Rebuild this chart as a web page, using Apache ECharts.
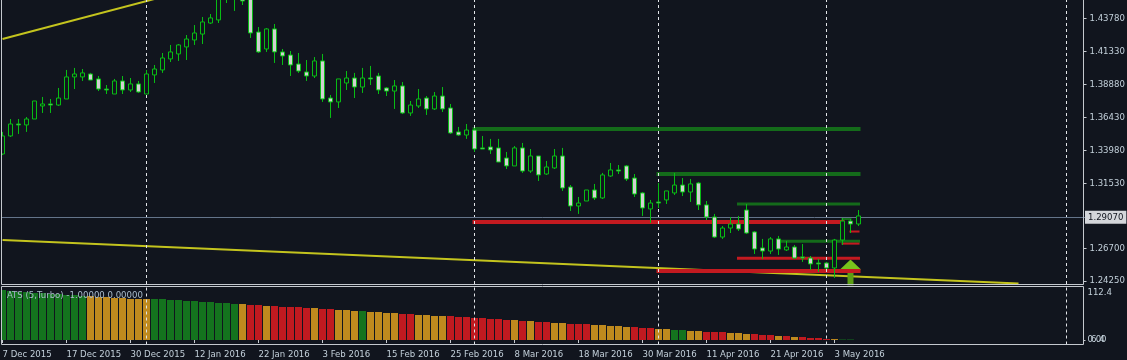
<!DOCTYPE html>
<html>
<head>
<meta charset="utf-8">
<style>
  html, body { margin: 0; padding: 0; background: #11151e; }
  #chart { width: 1127px; height: 360px; }
</style>
<script src="https://cdn.jsdelivr.net/npm/echarts@6/dist/echarts.min.js"></script>
</head>
<body>
<div id="chart"></div>
<script>
// [open, close, low, high], one row per trading day
const candles = [
  [1.3370,1.3504,1.3362,1.3534],[1.3504,1.3593,1.3496,1.3630],[1.3593,1.3586,1.3519,1.3630],[1.3586,1.3630,1.3534,1.3645],
  [1.3630,1.3764,1.3630,1.3764],[1.3727,1.3742,1.3675,1.3794],[1.3742,1.3734,1.3675,1.3779],[1.3734,1.3786,1.3727,1.3861],
  [1.3779,1.3943,1.3779,1.3995],[1.3943,1.3965,1.3853,1.4010],[1.3943,1.3973,1.3913,1.4002],[1.3965,1.3920,1.3920,1.3973],
  [1.3928,1.3853,1.3838,1.3950],[1.3853,1.3846,1.3816,1.3883],[1.3816,1.3913,1.3816,1.3928],[1.3913,1.3846,1.3816,1.3950],
  [1.3846,1.3891,1.3831,1.3935],[1.3891,1.3831,1.3824,1.3913],[1.3816,1.3965,1.3816,1.3995],[1.3958,1.4002,1.3898,1.4032],
  [1.3995,1.4084,1.3973,1.4121],[1.4077,1.4129,1.4054,1.4181],[1.4114,1.4181,1.4062,1.4188],[1.4166,1.4225,1.4069,1.4255],
  [1.4218,1.4270,1.4181,1.4329],[1.4262,1.4352,1.4188,1.4389],[1.4344,1.4382,1.4337,1.4411],[1.4367,1.4537,1.4344,1.4560],
  [1.4530,1.4560,1.4493,1.4575],[1.4530,1.4560,1.4434,1.4575],[1.4530,1.4508,1.4478,1.4560],[1.4530,1.4270,1.4233,1.4560],
  [1.4277,1.4129,1.4121,1.4314],[1.4151,1.4300,1.4129,1.4307],[1.4300,1.4129,1.4047,1.4337],[1.4129,1.4099,1.4032,1.4151],
  [1.4106,1.4032,1.3950,1.4136],[1.4039,1.3987,1.3973,1.4121],[1.3980,1.3950,1.3913,1.4069],[1.3950,1.4062,1.3935,1.4091],
  [1.4062,1.3779,1.3757,1.4114],[1.3786,1.3757,1.3638,1.3809],[1.3757,1.3928,1.3712,1.3928],[1.3898,1.3935,1.3846,1.3987],
  [1.3935,1.3868,1.3786,1.3973],[1.3868,1.3935,1.3824,1.4010],[1.3935,1.3928,1.3883,1.4025],[1.3950,1.3846,1.3816,1.3973],
  [1.3861,1.3838,1.3801,1.3868],[1.3838,1.3876,1.3705,1.3920],[1.3876,1.3675,1.3667,1.3905],[1.3675,1.3734,1.3653,1.3764],
  [1.3727,1.3779,1.3712,1.3853],[1.3786,1.3705,1.3660,1.3801],[1.3705,1.3801,1.3697,1.3831],[1.3801,1.3705,1.3682,1.3868],
  [1.3712,1.3526,1.3519,1.3742],[1.3534,1.3511,1.3504,1.3571],[1.3511,1.3548,1.3482,1.3593],[1.3548,1.3407,1.3385,1.3563],
  [1.3415,1.3407,1.3407,1.3504],[1.3422,1.3400,1.3370,1.3482],[1.3415,1.3310,1.3310,1.3482],[1.3340,1.3281,1.3258,1.3385],
  [1.3281,1.3415,1.3281,1.3429],[1.3415,1.3243,1.3229,1.3452],[1.3243,1.3355,1.3229,1.3407],[1.3355,1.3214,1.3169,1.3355],
  [1.3221,1.3273,1.3214,1.3318],[1.3266,1.3355,1.3258,1.3407],[1.3355,1.3117,1.3095,1.3415],[1.3124,1.2983,1.2946,1.3139],
  [1.2983,1.3005,1.2924,1.3050],[1.3020,1.3102,1.3020,1.3102],[1.3102,1.3043,1.3028,1.3147],[1.3043,1.3214,1.3035,1.3229],
  [1.3206,1.3251,1.3199,1.3303],[1.3251,1.3243,1.3221,1.3288],[1.3281,1.3184,1.3169,1.3288],[1.3191,1.3072,1.3050,1.3221],
  [1.3080,1.2968,1.2909,1.3087],[1.2961,1.3005,1.2857,1.3028],[1.3013,1.3005,1.2968,1.3154],[1.3028,1.3095,1.2998,1.3095],
  [1.3080,1.3139,1.3065,1.3229],[1.3139,1.3087,1.3057,1.3191],[1.3087,1.3147,1.3013,1.3184],[1.3154,1.2991,1.2953,1.3162],
  [1.2991,1.2901,1.2879,1.3020],[1.2901,1.2752,1.2745,1.2924],[1.2752,1.2819,1.2738,1.2834],[1.2819,1.2849,1.2782,1.2901],
  [1.2849,1.2812,1.2797,1.2909],[1.2953,1.2782,1.2775,1.2998],[1.2790,1.2663,1.2626,1.2797],[1.2671,1.2648,1.2589,1.2738],
  [1.2648,1.2738,1.2626,1.2752],[1.2738,1.2663,1.2619,1.2760],[1.2656,1.2678,1.2648,1.2723],[1.2678,1.2596,1.2589,1.2693],
  [1.2604,1.2596,1.2567,1.2700],[1.2596,1.2552,1.2507,1.2611],[1.2559,1.2552,1.2492,1.2589],[1.2559,1.2522,1.2515,1.2567],
  [1.2522,1.2730,1.2448,1.2738],[1.2730,1.2871,1.2693,1.2894],[1.2871,1.2849,1.2782,1.2886],[1.2849,1.2909,1.2834,1.2953]
];

const atsValues = [
  112.4,110.2,107.9,107.9,105.7,105.7,103.4,103.4,101.2,101.2,98.9,98.9,96.7,96.7,94.4,94.4,92.2,92.2,92.2,92.2,
  92.2,89.9,89.9,87.7,87.7,85.4,85.4,83.2,83.2,80.9,80.9,78.7,78.7,76.4,76.4,74.2,74.2,74.2,71.9,71.9,
  69.7,69.7,67.4,67.4,65.2,65.2,62.9,62.9,60.7,60.7,58.4,58.4,56.2,56.2,54,54,54,51.7,51.7,49.5,
  49.5,47.2,47.2,45,45,42.7,42.7,40.5,40.5,38.2,38.2,36,36,36,33.7,33.7,31.5,31.5,29.2,29.2,
  27,27,24.7,24.7,22.5,22.5,20.2,20.2,18,18,18,15.7,15.7,13.5,13.5,11.2,11.2,9,9,6.7,
  6.7,4.5,4.5,2.2,2.2,1.1,1.1
];
// g / o / r for each indicator bar
const atsState = 'ggggggggggg' + 'oooooooo' + 'ggggggggggg' + 'orrorrrr' + 'rorrooogoooorroooorrrrrrrrororroorrroo' + 'ooorrrooggoorrrooorrrororrrrogg' + 'g';

const tickLabels = ['7 Dec 2015','17 Dec 2015','30 Dec 2015','12 Jan 2016','22 Jan 2016','3 Feb 2016','15 Feb 2016',
  '25 Feb 2016','8 Mar 2016','18 Mar 2016','30 Mar 2016','11 Apr 2016','21 Apr 2016','3 May 2016'];
const priceTicks = [1.2425, 1.2670, 1.3153, 1.3398, 1.3643, 1.3888, 1.4133, 1.4378];
const lastPrice = 1.2907;
const separators = [18, 59, 82, 103, 133];

// [price, first bar, last bar, width]
const greenLevels = [[1.3556,59,107,4],[1.3221,82,107,4],[1.2998,92,107,3],[1.2720,97,107,3],[1.2886,105,106,2]];
const redLevels = [[1.2864,59,105,4],[1.2594,92,107,3],[1.2500,82,107,4],[1.2703,105,107,2],[1.2793,106,107,2]];
const trendLines = [[[0,1.4225],[19,1.4523]], [[0,1.2730],[127,1.2406]]];
const arrowHead = [[106,1.2548]];
const arrowStem = [[106,1.2445]];

const BAR_COUNT = 136;
const categories = [];
for (let i = 0; i < BAR_COUNT; i++) categories.push(i);

const BG = '#11151e';
const TEXT = '#c3d0da';
const FONT = '"DejaVu Sans Condensed"';
const atsColors = { g: '#14731e', o: '#bf8a1e', r: '#c01a20' };

const levelSeries = (list, color) => list.map(l => ({
  type: 'line', xAxisIndex: 0, yAxisIndex: 0, z: 3, silent: true, showSymbol: false,
  lineStyle: { color: color, width: l[3], cap: 'square' },
  data: [[l[1], l[0]], [l[2], l[0]]]
}));

const sepLine = () => ({
  silent: true, symbol: 'none', animation: false,
  label: { show: false },
  lineStyle: { color: '#e2e4e8', width: 1, type: [3, 3] },
  data: separators.map(i => ({ xAxis: i }))
});

const chart = echarts.init(document.getElementById('chart'), null, { renderer: 'canvas' });
chart.setOption({
  animation: false,
  backgroundColor: BG,
  grid: [
    { left: -1.5, top: 0, width: 1088, height: 284, outerBoundsMode: 'none' },
    { left: -1.5, top: 287, width: 1088, height: 57.5, outerBoundsMode: 'none' }
  ],
  xAxis: [
    { type: 'category', gridIndex: 0, data: categories, axisLine: { show: false }, axisTick: { show: false }, axisLabel: { show: false }, splitLine: { show: false } },
    {
      type: 'category', gridIndex: 1, data: categories,
      axisLine: { show: false },
      axisTick: { show: true, length: 3, alignWithLabel: true, lineStyle: { color: '#c8ccd2' }, interval: i => i % 8 === 0 && i <= 104 },
      axisLabel: {
        show: true, color: TEXT, fontFamily: FONT, fontSize: 9.5, align: 'left', margin: 5,
        hideOverlap: false, showMinLabel: true,
        interval: i => i % 8 === 0 && i <= 104,
        formatter: (v, i) => tickLabels[i / 8]
      },
      splitLine: { show: false }
    }
  ],
  yAxis: [
    {
      type: 'value', gridIndex: 0, position: 'right', offset: -3,
      min: 1.24027, max: 1.45153, scale: true,
      axisLine: { show: false },
      axisTick: { show: true, length: 3, lineStyle: { color: '#c8ccd2' }, customValues: priceTicks },
      axisLabel: { color: TEXT, fontFamily: FONT, fontSize: 9.5, margin: 6, customValues: priceTicks, formatter: v => v.toFixed(5) },
      splitLine: { show: false }
    },
    {
      type: 'value', gridIndex: 1, position: 'right', offset: -3,
      min: -10.1, max: 119.14,
      axisLine: { show: false },
      axisTick: { show: true, length: 2, lineStyle: { color: '#c8ccd2' }, customValues: [0] },
      axisLabel: {
        color: TEXT, fontFamily: FONT, fontSize: 9.5, margin: 4, customValues: [0, 112.4],
        hideOverlap: false, showMinLabel: true, showMaxLabel: true,
        formatter: v => v === 0 ? '0.00' : '{top|112.4}',
        rich: {
          top: { color: TEXT, fontFamily: FONT, fontSize: 9.5, padding: [6, 0, 0, 0] }
        }
      },
      splitLine: { show: false }
    }
  ],
  series: [
    { type: 'line', xAxisIndex: 0, yAxisIndex: 0, z: 1, silent: true, data: [], markLine: sepLine() },
    { type: 'line', xAxisIndex: 1, yAxisIndex: 1, z: 1, silent: true, data: [], markLine: sepLine() },
    {
      type: 'line', xAxisIndex: 0, yAxisIndex: 0, z: 2, silent: true, data: [],
      markLine: {
        silent: true, symbol: 'none', animation: false,
        lineStyle: { color: '#64748a', width: 1, type: 'solid' },
        label: {
          position: 'end', distance: -1.5, formatter: () => lastPrice.toFixed(5),
          color: '#11151e', backgroundColor: '#d4d6da', fontFamily: FONT, fontSize: 9.5, padding: [2, 3, 1, 3]
        },
        data: [{ yAxis: lastPrice }]
      }
    },
    ...trendLines.map(t => ({
      type: 'line', xAxisIndex: 0, yAxisIndex: 0, z: 2, silent: true, showSymbol: false,
      lineStyle: { color: '#c4c41e', width: 2 }, data: t
    })),
    {
      type: 'scatter', xAxisIndex: 0, yAxisIndex: 0, z: 2, silent: true,
      symbol: 'triangle', symbolSize: [21, 10], itemStyle: { color: '#78c41c', opacity: 1 }, data: arrowHead
    },
    {
      type: 'scatter', xAxisIndex: 0, yAxisIndex: 0, z: 2, silent: true,
      symbol: 'rect', symbolSize: [6, 14], itemStyle: { color: '#5c9e14', opacity: 1 }, data: arrowStem
    },
    ...levelSeries(greenLevels, '#146b1a'),
    ...levelSeries(redLevels, '#c41a20'),
    {
      type: 'candlestick', xAxisIndex: 0, yAxisIndex: 0, z: 5, silent: true,
      barWidth: 5,
      itemStyle: {
        color: BG, color0: '#d0d0d0',
        borderColor: '#08bc14', borderColor0: '#08bc14', borderColorDoji: '#08bc14', borderWidth: 1
      },
      data: candles
    },
    {
      type: 'bar', xAxisIndex: 1, yAxisIndex: 1, z: 3, silent: true, barWidth: 7,
      data: atsValues.map((v, i) => ({ value: v, itemStyle: { color: atsColors[atsState[i]] } }))
    }
  ],
  graphic: [
    { type: 'rect', z: 20, silent: true, shape: { x: 0, y: 0, width: 1, height: 360 }, style: { fill: BG } },
    { type: 'rect', z: 21, silent: true, shape: { x: 1.5, y: -5, width: 1082, height: 289.5 }, style: { fill: 'transparent', stroke: '#c4c8ce', lineWidth: 1 } },
    { type: 'rect', z: 21, silent: true, shape: { x: 1.5, y: 286.5, width: 1082, height: 58 }, style: { fill: 'transparent', stroke: '#c4c8ce', lineWidth: 1 } },
    { type: 'text', z: 22, silent: true, x: 7, y: 295.5, style: { text: 'ATS (5,Turbo) -1.00000 0.00000', fill: '#a9bccb', font: '9.5px "DejaVu Sans Condensed"', verticalAlign: 'middle' } },
    { type: 'text', z: 22, silent: true, x: 1091, y: 339.5, style: { text: '6.4', fill: TEXT, font: '9.5px "DejaVu Sans Condensed"', verticalAlign: 'middle' } }
  ]
});
</script>
</body>
</html>
